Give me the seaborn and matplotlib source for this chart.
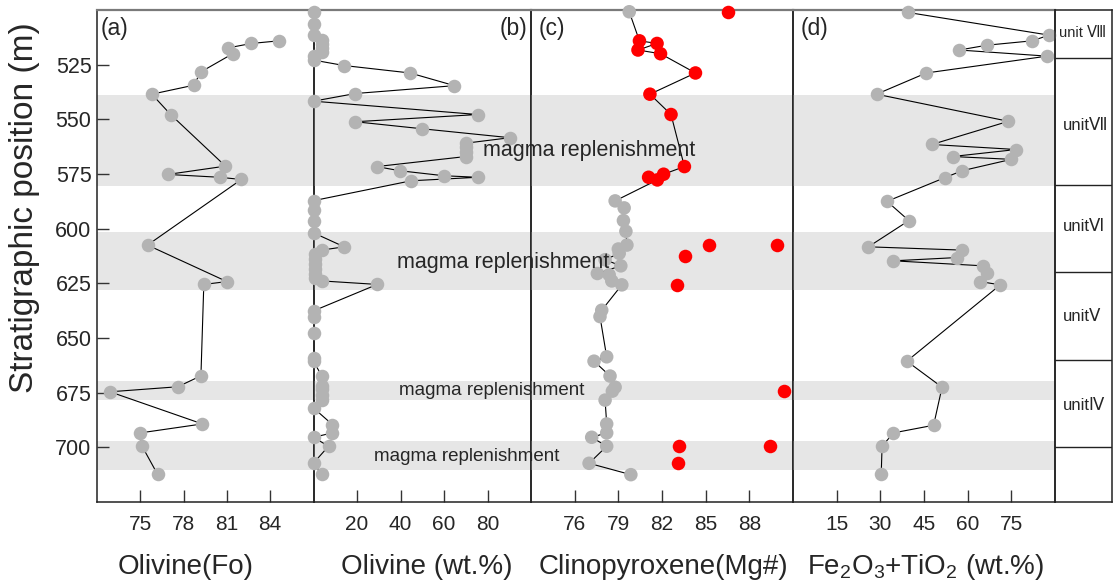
import matplotlib
matplotlib.use("Agg")
import matplotlib.pyplot as plt
from matplotlib import transforms
import seaborn as sns
import pandas as pd

# ---------------- data ----------------
# (a) olivine forsterite content
fo_depth = [514.1, 515.3, 517.3, 520.0, 528.3, 534.4, 538.5, 547.8, 571.4, 575.2, 576.5,
            577.5, 607.5, 624.2, 625.5, 667.3, 672.3, 674.6, 689.3, 693.4, 699.2, 712.4]
fo_val = [84.6, 82.7, 81.1, 81.4, 79.2, 78.7, 75.8, 77.1, 80.9, 76.9, 80.5,
          82.0, 75.5, 81.0, 79.4, 79.2, 77.6, 72.9, 79.3, 75.0, 75.1, 76.2]

# (b) modal olivine (wt.%)
ol_depth = [500.8, 506.6, 511.5, 513.5, 515.4, 517.3, 519.2, 521.2, 522.9, 525.4, 528.8,
            534.6, 538.2, 541.7, 547.8, 551.1, 554.3, 558.4, 560.9, 562.8, 564.8, 567.0,
            571.6, 573.5, 575.8, 576.5, 578.1, 587.2, 591.3, 596.3, 601.9, 608.3, 609.8,
            611.8, 614.0, 616.2, 618.4, 620.6, 622.6, 623.9, 625.5, 637.6, 640.2, 647.9,
            659.3, 660.6, 667.4, 672.0, 673.5, 676.0, 678.4, 682.0, 689.6, 693.4, 695.4,
            699.5, 707.2, 712.2]
ol_val = [0, 0, 0, 3.8, 3.8, 3.8, 3.8, 0, 0, 14.1, 44.4,
          64.8, 19.2, 0, 75.5, 19.2, 49.8, 90.3, 70.1, 70.1, 70.1, 70.1,
          29.1, 39.6, 60.0, 75.5, 44.9, 0, 0, 0, 0, 14.1, 3.8,
          0.5, 0.5, 0.5, 0.5, 0.5, 0.5, 3.8, 29.3, 0, 0, 0,
          0, 0, 3.8, 3.8, 3.8, 3.8, 3.8, 0, 8.7, 8.7, 0,
          6.9, 0, 3.8]

# (c) clinopyroxene Mg# along the section (red = upper interval)
cpx_depth = [500.8, 514.1, 515.3, 518.3, 520.0, 528.8, 538.5, 547.8, 571.6, 575.1, 576.5,
             577.7, 587.3, 590.5, 596.3, 601.2, 607.5, 609.3, 611.3, 614.2, 617.0, 620.5,
             621.1, 623.9, 625.7, 637.3, 640.2, 658.6, 660.6, 667.4, 672.5, 674.3, 678.4,
             689.3, 693.4, 695.4, 699.5, 707.3, 712.5]
cpx_val = [79.75, 80.45, 81.66, 80.35, 81.9, 84.3, 81.17, 82.62, 83.54, 82.11, 81.08,
           81.68, 78.78, 79.4, 79.35, 79.52, 79.59, 79.0, 79.06, 78.09, 79.17, 77.56,
           78.37, 78.55, 79.24, 77.86, 77.74, 78.2, 77.33, 78.43, 78.78, 78.59, 78.09,
           78.2, 78.2, 77.17, 78.2, 76.99, 79.86]
cpx_group = ["gray"] + ["red"] * 11 + ["gray"] * 27
# (c) isolated high-Mg# clinopyroxene
cpx_hi_depth = [500.8, 607.3, 607.3, 612.4, 625.7, 674.3, 699.5, 699.5, 707.3]
cpx_hi_val = [86.5, 85.2, 89.9, 83.6, 83.0, 90.4, 83.2, 89.4, 83.1]

# (d) Fe2O3 + TiO2 (wt.%)
fe_depth = [501.1, 511.5, 514.1, 516.1, 518.3, 521.1, 528.8, 538.5, 550.9, 561.5, 563.8,
            567.0, 568.3, 573.5, 576.7, 587.5, 596.3, 608.3, 609.8, 613.2, 614.7, 617.0,
            620.5, 624.2, 625.7, 660.6, 672.5, 689.9, 693.4, 699.5, 712.4]
fe_val = [39.4, 88.0, 82.1, 66.6, 57.1, 87.3, 45.8, 28.7, 74.0, 47.7, 76.7,
          54.8, 75.0, 58.1, 52.1, 32.3, 39.8, 25.9, 58.0, 56.5, 34.5, 65.4,
          66.6, 64.3, 71.2, 39.1, 51.2, 48.3, 34.5, 30.6, 30.3]

# magma replenishment intervals (m)
band_top = [538.7, 601.7, 669.7, 697.0]
band_bottom = [580.3, 628.1, 678.4, 710.2]

# lithological units
unit_bounds = [522.0, 580.0, 620.0, 660.0, 700.0]
unit_names = ["unit \u2167", "unit\u2166", "unit\u2165", "unit\u2164", "unit\u2163"]
unit_label_depth = [510.5, 552.8, 599.0, 640.0, 681.0]

panel_tags = ["(a)", "(b)", "(c)", "(d)"]
xlabels = ["Olivine(Fo)", "Olivine (wt.%)", "Clinopyroxene(Mg#)",
           "Fe$_2$O$_3$+TiO$_2$ (wt.%)"]
xticks = [[75, 78, 81, 84], [20, 40, 60, 80], [76, 79, 82, 85, 88], [15, 30, 45, 60, 75]]
xlims = [(72, 87), (0, 100), (73, 91), (0, 90)]
yticks = [525, 550, 575, 600, 625, 650, 675, 700]

# ---------------- style ----------------
sns.set_style("ticks")
plt.rcParams["font.family"] = ["Liberation Sans", "DejaVu Sans"]
plt.rcParams["mathtext.fontset"] = "custom"
plt.rcParams["mathtext.rm"] = "Liberation Sans"
plt.rcParams["mathtext.it"] = "Liberation Sans"

GRAY = "#b3b3b3"
RED = "#ff0000"
BAND = "#e6e6e6"

W, H = 1113, 582
fig = plt.figure(figsize=(W / 100, H / 100), dpi=100)
top_px, bot_px = 10, 502
fb = (H - bot_px) / H
fh = (bot_px - top_px) / H
edges = [97, 313.5, 531, 793, 1055, 1112]
axes = []
for i in range(5):
    ax = fig.add_axes([edges[i] / W, fb, (edges[i + 1] - edges[i]) / W, fh])
    ax.set_facecolor("none")
    ax.set_ylim(725, 500)
    axes.append(ax)

ax_a, ax_b, ax_c, ax_d, ax_u = axes

# ---------------- panels ----------------
line_kw = dict(color="black", linewidth=0.8, sort=False, estimator=None, zorder=3)
pt_kw = dict(s=95, linewidth=0, zorder=4, clip_on=False, legend=False)

sns.lineplot(x=fo_val, y=fo_depth, ax=ax_a, **line_kw)
sns.scatterplot(x=fo_val, y=fo_depth, color=GRAY, ax=ax_a, **pt_kw)

sns.lineplot(x=ol_val, y=ol_depth, ax=ax_b, **line_kw)
sns.scatterplot(x=ol_val, y=ol_depth, color=GRAY, ax=ax_b, **pt_kw)

cpx = pd.DataFrame({"depth": cpx_depth, "mg": cpx_val, "grp": cpx_group})
sns.lineplot(data=cpx, x="mg", y="depth", ax=ax_c, **line_kw)
sns.scatterplot(data=cpx, x="mg", y="depth", hue="grp",
                palette={"gray": GRAY, "red": RED}, ax=ax_c, **pt_kw)
sns.scatterplot(x=cpx_hi_val, y=cpx_hi_depth, color=RED, ax=ax_c, **pt_kw)

sns.lineplot(x=fe_val, y=fe_depth, ax=ax_d, **line_kw)
sns.scatterplot(x=fe_val, y=fe_depth, color=GRAY, ax=ax_d, **pt_kw)

label_x = [0.41, 0.52, 0.504, 0.504]
for i, ax in enumerate(axes[:4]):
    for t, b in zip(band_top, band_bottom):
        ax.axhspan(t, b, color=BAND, linewidth=0, zorder=0)
    ax.set_xlim(*xlims[i])
    ax.set_xticks(xticks[i])
    ax.tick_params(axis="x", direction="in", length=8.5, width=1, pad=9,
                   labelsize=15, color="#333333")
    ax.set_xlabel(xlabels[i], fontsize=20, va="center")
    ax.xaxis.set_label_coords(label_x[i], -0.132)
    ax.set_ylabel("")
    if i == 0:
        ax.set_yticks(yticks)
        ax.tick_params(axis="y", direction="in", length=8.5, width=1, pad=4,
                       labelsize=15.5, color="#333333")
    else:
        ax.set_yticks([])
    for side in ["left", "right", "bottom"]:
        ax.spines[side].set_color("#222222")
        ax.spines[side].set_linewidth(1.1)
    ax.spines["top"].set_color("#7a7a7a")
    ax.spines["top"].set_linewidth(1.6)

ax_a.set_ylabel("Stratigraphic position (m)", fontsize=24, va="center")
ax_a.yaxis.set_label_coords(-0.337, 0.598)

# panel tags
ax_a.text(0.015, 0.985, panel_tags[0], transform=ax_a.transAxes, fontsize=16.5, va="top", ha="left")
ax_b.text(0.985, 0.985, panel_tags[1], transform=ax_b.transAxes, fontsize=16.5, va="top", ha="right")
ax_c.text(0.03, 0.985, panel_tags[2], transform=ax_c.transAxes, fontsize=16.5, va="top", ha="left")
ax_d.text(0.03, 0.985, panel_tags[3], transform=ax_d.transAxes, fontsize=16.5, va="top", ha="left")

# replenishment labels (span panels b and c)
tr = transforms.blended_transform_factory(fig.transFigure, ax_a.transData)
rep_x = [589 / W, 503.5 / W, 491.5 / W, 466.5 / W]
rep_y = [564.2, 615.6, 673.9, 704.1]
rep_size = [15.5, 15.5, 13.5, 13.5]
for x, y, fs in zip(rep_x, rep_y, rep_size):
    fig.text(x, y, "magma replenishment", transform=tr, fontsize=fs,
             ha="center", va="center", zorder=5)

# unit column
ax_u.set_xlim(0, 1)
ax_u.set_xticks([])
ax_u.set_yticks([])
for b in unit_bounds:
    ax_u.axhline(b, color="#222222", linewidth=1)
unit_size = [10.5, 12, 12, 12, 12]
unit_x = [0.07, 0.13, 0.13, 0.13, 0.13]
for name, y, fs, x in zip(unit_names, unit_label_depth, unit_size, unit_x):
    ax_u.text(x, y, name, fontsize=fs, va="center", ha="left")
for side in ["left", "right", "bottom", "top"]:
    ax_u.spines[side].set_color("#222222")
    ax_u.spines[side].set_linewidth(1.1)

fig.savefig("out.png", dpi=100)
